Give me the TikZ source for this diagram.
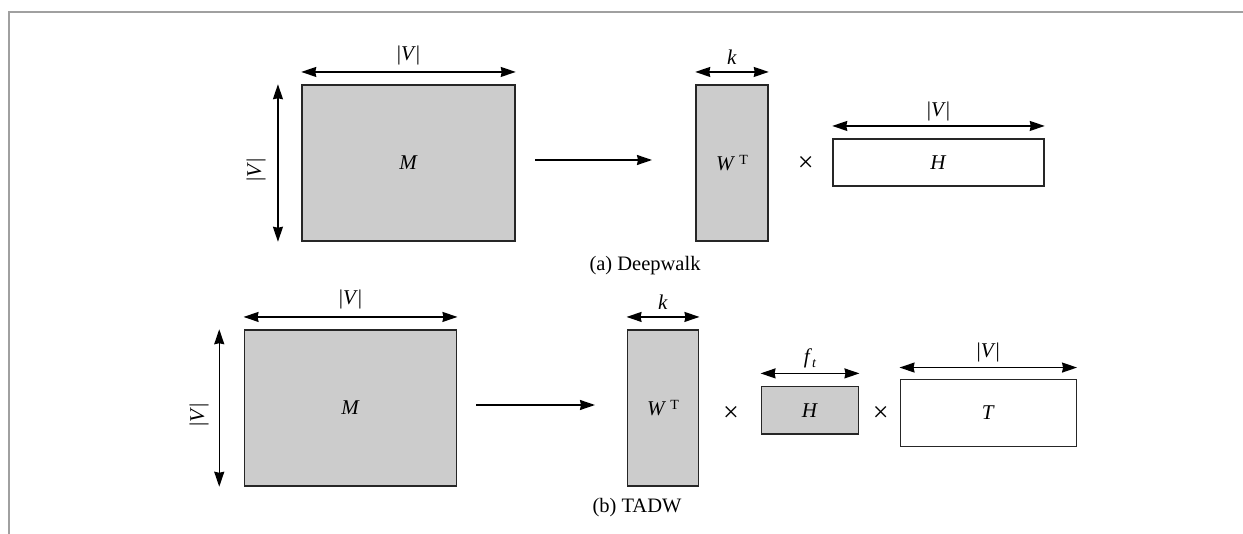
\documentclass[tikz,border=0pt]{standalone}
\usepackage{fontspec}
\setmainfont{Liberation Serif}
\usetikzlibrary{arrows.meta}
\definecolor{matgray}{HTML}{CCCCCC}
\definecolor{framegray}{HTML}{A0A0A0}
\begin{document}
\begin{tikzpicture}[x=1pt,y=-1pt,
  every node/.style={font=\fontsize{21}{23}\selectfont},
  mat/.style={draw=black!85,line width=1.5pt,inner sep=0pt},
  gmat/.style={mat,fill=matgray},
  wmat/.style={mat,fill=white},
  dimarrow/.style={line width=1.4pt,{Stealth[length=15pt,width=10pt,inset=1pt]}-{Stealth[length=15pt,width=10pt,inset=1pt]}},
  maparrow/.style={line width=1.4pt,-{Stealth[length=15pt,width=10pt,inset=1pt]}},
  lbl/.style={inner sep=0pt},
  timessign/.style={inner sep=0pt,font=\fontsize{28}{28}\selectfont},
  captext/.style={inner sep=0pt,font=\fontsize{20.5}{22}\selectfont}]
\newcommand{\VV}{|\textit{V}|}
\newcommand{\WT}{\textit{W}\hspace{4pt}\raisebox{6pt}{\fontsize{14}{14}\selectfont T}}
\useasboundingbox (0,0) rectangle (1243,534);
% frame
\draw[framegray,line width=1.6pt] (9,534) -- (9,12) -- (1243,12);

% ---------- (a) Deepwalk ----------
\node[gmat,minimum width=213,minimum height=156] (M1) at (408.5,163) {\textit{M}};
\node[gmat,minimum width=72,minimum height=156] (W1) at (732,163) {\WT};
\node[wmat,minimum width=211,minimum height=47] (H1) at (938.5,162.5) {\textit{H}};
\node[timessign] (x1) at (805.7,164) {×};
\draw[dimarrow] ([yshift=12.3]M1.north west) -- ([yshift=12.3]M1.north east);
\node[lbl] (lM1t) at (408.5,55) {\VV};
\draw[dimarrow] ([xshift=-23.3]M1.north west) -- ([xshift=-23.3]M1.south west);
\node[lbl,rotate=90] (lM1l) at (256,170) {\VV};
\coordinate (a1s) at (535,160);
\coordinate (a1e) at (652,160);
\draw[maparrow] (a1s) -- (a1e);
\draw[dimarrow] ([yshift=12.3]W1.north west) -- ([yshift=12.3]W1.north east);
\node[lbl] (lW1) at (732,57) {\textit{k}};
\draw[dimarrow] ([yshift=12.3]H1.north west) -- ([yshift=12.3]H1.north east);
\node[lbl] (lH1) at (938.5,111) {\VV};
\node[captext] (capa) at (645,266) {(a) Deepwalk};

% ---------- (b) TADW ----------
\node[gmat,minimum width=212.4,minimum height=156] (M2) at (350.5,408) {\textit{M}};
\node[gmat,minimum width=71.4,minimum height=156] (W2) at (663,408) {\WT};
\node[gmat,minimum width=97.4,minimum height=47.3] (H2) at (810,410.3) {\textit{H}};
\node[wmat,minimum width=176,minimum height=67.4] (T2) at (988.3,413) {\textit{T}};
\node[timessign] (x2) at (731,414) {×};
\node[timessign] (x3) at (880.7,414) {×};
\draw[dimarrow] ([yshift=12.3]M2.north west) -- ([yshift=12.3]M2.north east);
\node[lbl] (lM2t) at (350.5,299) {\VV};
\draw[dimarrow] ([xshift=-24.3]M2.north west) -- ([xshift=-24.3]M2.south west);
\node[lbl,rotate=90] (lM2l) at (199,415) {\VV};
\coordinate (a2s) at (476,405);
\coordinate (a2e) at (595,405);
\draw[maparrow] (a2s) -- (a2e);
\draw[dimarrow] ([yshift=12.3]W2.north west) -- ([yshift=12.3]W2.north east);
\node[lbl] (lW2) at (663,302) {\textit{k}};
\draw[dimarrow] ([yshift=12.5]H2.north west) -- ([yshift=12.5]H2.north east);
\node[lbl] (lH2) at (810,358) {\textit{f}\raisebox{-4pt}{\fontsize{14}{14}\selectfont\textit{t}}};
\draw[dimarrow] ([yshift=11]T2.north west) -- ([yshift=11]T2.north east);
\node[lbl] (lT2) at (988.3,352) {\VV};
\node[captext] (capb) at (637,508) {(b) TADW};
\end{tikzpicture}
\end{document}
